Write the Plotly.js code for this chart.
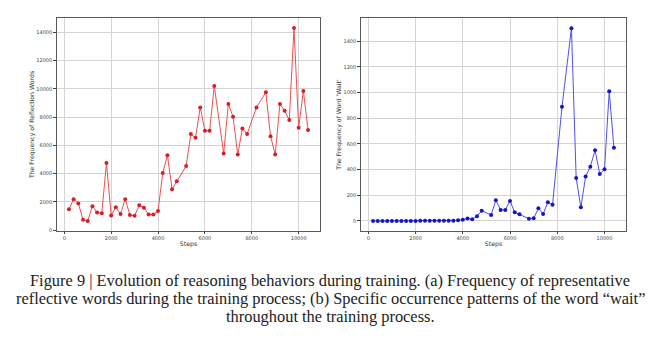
<!DOCTYPE html>
<html>
<head>
<meta charset="utf-8">
<script src="https://cdn.plot.ly/plotly-3.0.1.min.js"></script>
<style>html,body{margin:0;padding:0;background:#fff;}#chart{width:660px;height:338px;}</style>
</head>
<body>
<div id="chart"></div>
<script>
// Shared training steps (x values)
const steps = [200,400,600,800,1000,1200,1400,1600,1800,2000,2200,2400,2600,2800,3000,3200,3400,3600,3800,4000,4200,4400,4600,4800,
  5200,5400,5600,5800,6000,6200,6400,
  6800,7000,7200,7400,7600,7800,
  8200,
  8600,8800,9000,9200,9400,9600,9800,10000,10200,10400];

// (a) Frequency of reflection words
const reflectionFreq = [1480,2200,1900,750,650,1700,1250,1200,4750,1050,1630,1150,2200,1080,1020,1770,1600,1110,1120,1370,4040,5300,2900,3470,
  4550,6800,6540,8680,7030,7030,10200,
  5430,8920,8030,5350,7200,6800,
  8680,
  9750,6650,5350,8930,8450,7790,14300,7250,9850,7080];

// (b) Frequency of the word 'wait'
const waitFreq = [0,0,0,0,0,0,0,0,0,0,1,1,2,1,1,1,1,1,5,10,20,13,36,80,
  47,161,86,86,156,67,52,
  18,21,99,54,145,127,
  889,
  1500,334,106,347,423,550,366,402,1010,570];

const xTicks = [0,2000,4000,6000,8000,10000];
const yTicksA = [0,2000,4000,6000,8000,10000,12000,14000];
const yTicksB = [0,200,400,600,800,1000,1200,1400];

const captionLines = [
  "Figure 9 | Evolution of reasoning behaviors during training. (a) Frequency of representative",
  "reflective words during the training process; (b) Specific occurrence patterns of the word \u201cwait\u201d",
  "throughout the training process."
];

const W = 660, H = 338;
const fx = p => p / W;
const fy = p => 1 - p / H;

const tickFont = {family: "DejaVu Sans", size: 5, color: "#444"};
const titleFont = {family: "DejaVu Sans", size: 6.2, color: "#333"};

function xAxis(domain, anchor) {
  return {
    domain: domain, anchor: anchor,
    range: [-310, 10910],
    tickvals: xTicks, ticktext: xTicks.map(String),
    ticks: "outside", ticklen: 2, tickwidth: 1, tickcolor: "#444",
    tickfont: tickFont,
    showline: true, mirror: true, linecolor: "#5a5a5a", linewidth: 1.3,
    showgrid: true, gridcolor: "#d4d4d4", gridwidth: 1,
    zeroline: false,
    title: {text: "Steps", font: titleFont, standoff: 1}
  };
}
function yAxis(domain, anchor, range, ticks, title) {
  return {
    domain: domain, anchor: anchor,
    range: range,
    tickvals: ticks, ticktext: ticks.map(String),
    ticks: "outside", ticklen: 2.5, tickwidth: 1, tickcolor: "#444",
    tickfont: tickFont,
    showline: true, mirror: true, linecolor: "#5a5a5a", linewidth: 1.3,
    showgrid: true, gridcolor: "#d4d4d4", gridwidth: 1,
    zeroline: false,
    title: {text: title, font: titleFont, standoff: 0}
  };
}

const yDom = [fy(231), fy(18)];

const traces = [
  {
    x: steps, y: reflectionFreq, type: "scatter", mode: "lines+markers",
    xaxis: "x", yaxis: "y",
    line: {color: "rgb(238,80,80)", width: 1},
    marker: {color: "rgb(215,30,40)", size: 4},
    showlegend: false, hoverinfo: "skip"
  },
  {
    x: steps, y: waitFreq, type: "scatter", mode: "lines+markers",
    xaxis: "x2", yaxis: "y2",
    line: {color: "rgb(80,80,238)", width: 1},
    marker: {color: "rgb(20,20,200)", size: 4},
    showlegend: false, hoverinfo: "skip"
  }
];

const captionY = [280, 298, 316];
const annotations = captionLines.map((t, i) => ({
  text: t, xref: "paper", yref: "paper",
  x: 0.5, y: fy(captionY[i]), xanchor: "center", yanchor: "middle",
  showarrow: false,
  font: {family: "Liberation Serif", size: 16.4, color: "#222"}
}));

const layout = {
  width: W, height: H,
  margin: {l: 0, r: 0, t: 0, b: 0},
  paper_bgcolor: "#fff", plot_bgcolor: "#fff",
  xaxis: xAxis([fx(57), fx(320)], "y"),
  yaxis: yAxis(yDom, "x", [-50, 15000], yTicksA, "The Frequency of Reflection Words"),
  xaxis2: xAxis([fx(361), fx(626)], "y2"),
  yaxis2: yAxis(yDom, "x2", [-78, 1580], yTicksB, "The Frequency of Word 'Wait'"),
  annotations: annotations
};

Plotly.newPlot("chart", traces, layout, {displayModeBar: false, staticPlot: true});
</script>
</body>
</html>
